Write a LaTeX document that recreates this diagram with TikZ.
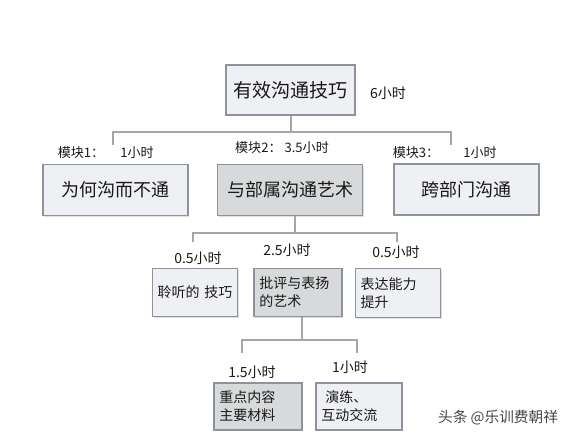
\documentclass[tikz,border=0pt]{standalone}
\usepackage{fontspec}
\setmainfont{Noto Sans CJK SC}
\usetikzlibrary{shadows}
\definecolor{boxfill}{RGB}{239,240,243}
\definecolor{boxdark}{RGB}{216,217,219}
\definecolor{boxline}{RGB}{140,147,157}
\definecolor{linkgray}{RGB}{166,166,166}
\definecolor{markgray}{RGB}{70,70,70}

\begin{document}
\begin{tikzpicture}[x=0.75pt, y=-0.75pt,
  every node/.style={text=black!90},
  box/.style={draw=boxline, fill=boxfill, line width=0.8pt, inner sep=3pt,
    drop shadow={shadow xshift=1pt, shadow yshift=-1pt, opacity=0.25}},
  topbox/.style={box, minimum width=96.75pt, minimum height=37.5pt, font=\fontsize{14.3}{16}\selectfont},
  modbox/.style={box, minimum width=108.75pt, minimum height=38.25pt, font=\fontsize{13.5}{15}\selectfont},
  subbox/.style={box, minimum width=#1, minimum height=36.5pt, text width={#1-8pt}, align=left,
    font=\fontsize{10.5}{13.5}\selectfont},
  subbox/.default=64pt,
  leafbox/.style={subbox=#1, minimum height=35.25pt},
  dark/.style={fill=boxdark},
  hours/.style={font=\fontsize{10.5}{12}\selectfont, inner sep=0pt},
  modlabel/.style={font=\fontsize{9.8}{12}\selectfont, inner sep=0pt},
  link/.style={draw=linkgray, line width=1.5pt}]
  \useasboundingbox (0,0) rectangle (570,444);
  % --- top course ---
  \node[topbox] (course) at (290.5,90) {有效沟通技巧};
  \node[hours] (courseh) at (388,93) {6小时};
  % --- three modules ---
  \node[modbox] (modA) at (115.5,190) {为何沟而不通};
  \node[modbox, dark] (modB) at (290,190) {与部属沟通艺术};
  \node[modbox] (modC) at (466.5,189.5) {跨部门沟通};
  \node[modlabel] (modAl) at (81,153) {模块1：};
  \node[hours, font=\fontsize{9.8}{12}\selectfont] (modAh) at (137,153) {1小时};
  \node[modlabel] (modBl) at (282,148) {模块2：\ 3.5小时};
  \node[modlabel] (modCl) at (416,153) {模块3：};
  \node[hours, font=\fontsize{9.8}{12}\selectfont] (modCh) at (480,153) {1小时};
  % --- parts of module 2 ---
  \node[subbox] (listen) at (195,292.5) {聆听的 技巧};
  \node[subbox=66pt, dark] (praise) at (298,292.5) {批评与表扬\\的艺术};
  \node[subbox] (express) at (398,293) {表达能力\\提升};
  \node[hours] (listenh) at (198,258) {0.5小时};
  \node[hours] (praiseh) at (287,250) {2.5小时};
  \node[hours] (expressh) at (396,252) {0.5小时};
  % --- parts of praise ---
  \node[leafbox=66pt, dark] (content) at (258,406.5) {重点内容\\主要材料};
  \node[leafbox=64.5pt] (drill) at (359,406.5) {\hspace{3pt}演练、\\互动交流};
  \node[hours] (contenth) at (252,372) {1.5小时};
  \node[hours] (drillh) at (350,367) {1小时};
  % --- tree connectors ---
  \coordinate (j1) at (290.5,132);
  \coordinate (d1a) at (113,145);
  \coordinate (d1c) at (451,145);
  \draw[link] (course.south) -- (j1);
  \draw[link] (d1a) |- (j1) -| (d1c);
  \coordinate (j2) at (295,233);
  \coordinate (d2a) at (193,242);
  \coordinate (d2c) at (397,242);
  \draw[link] (modB.south -| j2) -- (j2);
  \draw[link] (d2a) |- (j2) -| (d2c);
  \coordinate (j3) at (302,340);
  \coordinate (d3a) at (242,353);
  \coordinate (d3b) at (357,353);
  \draw[link] (praise.south -| j3) -- (j3);
  \draw[link] (d3a) |- (j3) -| (d3b);
  % --- watermark ---
  \node[text=markgray, font=\fontsize{11}{13}\selectfont] (mark) at (498,418) {头条 @乐训费朝祥};
\end{tikzpicture}
\end{document}
